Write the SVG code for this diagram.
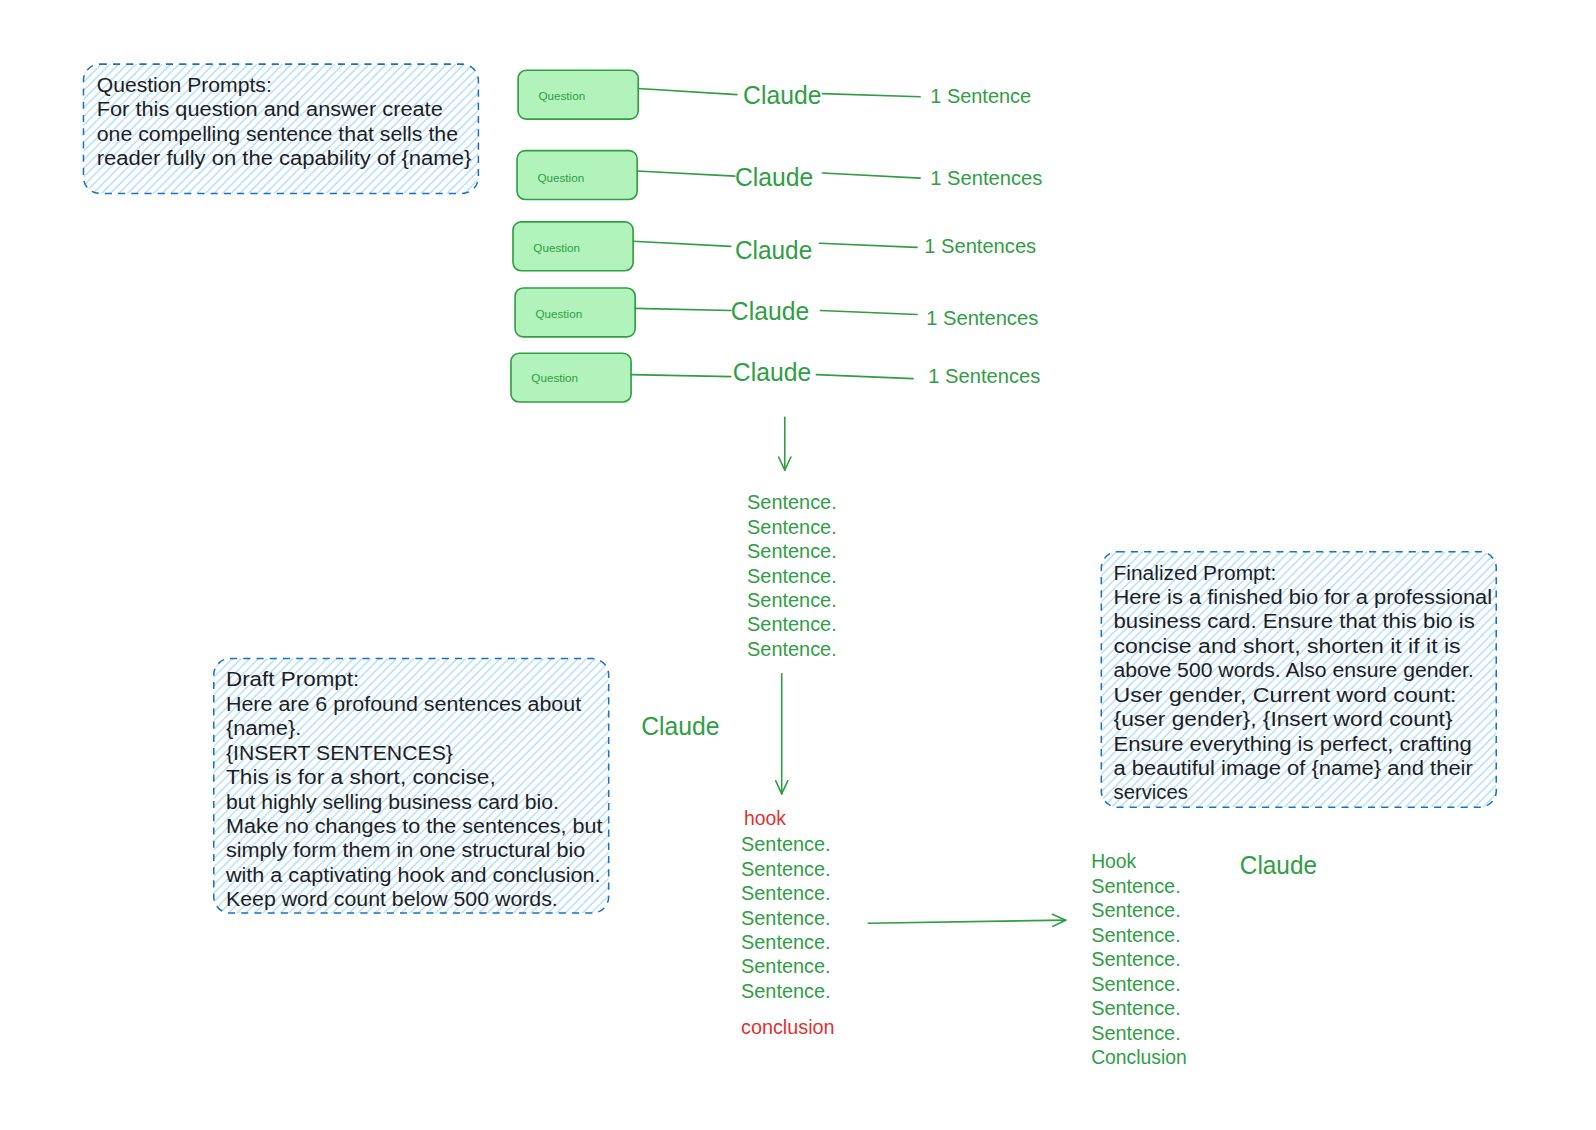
<svg xmlns="http://www.w3.org/2000/svg" width="1596" height="1130" viewBox="0 0 1596 1130">
<defs>
<pattern id="hatch" patternUnits="userSpaceOnUse" width="6" height="6" patternTransform="rotate(45)">
<line x1="1" y1="0" x2="1" y2="6" stroke="#a5d8ff" stroke-width="1.2"/>
</pattern>
<marker id="arrow" markerWidth="16" markerHeight="14" refX="14" refY="7" orient="auto" markerUnits="userSpaceOnUse">
<path d="M1,1 L14,7 L1,13" fill="none" stroke="#2f9e44" stroke-width="1.6" stroke-linecap="round" stroke-linejoin="round"/>
</marker>
</defs>
<style>
text{font-family:"Liberation Sans",Arial,sans-serif;dominant-baseline:central}
.prompt{fill:url(#hatch);stroke:#1971c2;stroke-width:1.5;stroke-dasharray:7 6}
.ptext{font-size:19px;fill:#1e1e1e}
.q{fill:#b2f2bb;stroke:#2f9e44;stroke-width:1.6}
.qt{font-size:11.5px;fill:#2f9e44}
.claude{font-size:25px;fill:#2f9e44}
.g{font-size:19px;fill:#2f9e44}
.r{font-size:19px;fill:#e03131}
.conn{stroke:#2f9e44;stroke-width:1.6;fill:none;stroke-linecap:round}
</style>
<rect width="1596" height="1130" fill="#ffffff"/>
<g transform="scale(1.01786)">
<g id="question-prompts">
<rect class="prompt" x="82" y="63" width="388" height="127" rx="16"/>
<text class="ptext" x="95" y="84" textLength="172" lengthAdjust="spacingAndGlyphs">Question Prompts:</text>
<text class="ptext" x="95" y="108" textLength="340" lengthAdjust="spacingAndGlyphs">For this question and answer create</text>
<text class="ptext" x="95" y="132" textLength="355" lengthAdjust="spacingAndGlyphs">one compelling sentence that sells the</text>
<text class="ptext" x="95" y="156" textLength="368" lengthAdjust="spacingAndGlyphs">reader fully on the capability of {name}</text>
</g>

<g id="q1"><rect class="q" x="509" y="69" width="118" height="48" rx="8"/><text class="qt" x="529" y="94">Question</text></g>
<g id="q2"><rect class="q" x="508" y="148" width="118" height="48" rx="8"/><text class="qt" x="528" y="174">Question</text></g>
<g id="q3"><rect class="q" x="504" y="218" width="118" height="48" rx="8"/><text class="qt" x="524" y="243">Question</text></g>
<g id="q4"><rect class="q" x="506" y="283" width="118" height="48" rx="8"/><text class="qt" x="526" y="308">Question</text></g>
<g id="q5"><rect class="q" x="502" y="347" width="118" height="48" rx="8"/><text class="qt" x="522" y="371">Question</text></g>

<g id="claude1"><text class="claude" x="730" y="93" textLength="77" lengthAdjust="spacingAndGlyphs">Claude</text></g>
<g id="claude2"><text class="claude" x="722" y="174" textLength="77" lengthAdjust="spacingAndGlyphs">Claude</text></g>
<g id="claude3"><text class="claude" x="722" y="246" textLength="76" lengthAdjust="spacingAndGlyphs">Claude</text></g>
<g id="claude4"><text class="claude" x="718" y="306" textLength="77" lengthAdjust="spacingAndGlyphs">Claude</text></g>
<g id="claude5"><text class="claude" x="720" y="365" textLength="77" lengthAdjust="spacingAndGlyphs">Claude</text></g>

<g id="out1"><text class="g" x="914" y="95" textLength="99" lengthAdjust="spacingAndGlyphs">1 Sentence</text></g>
<g id="out2"><text class="g" x="914" y="175" textLength="110" lengthAdjust="spacingAndGlyphs">1 Sentences</text></g>
<g id="out3"><text class="g" x="908" y="242" textLength="110" lengthAdjust="spacingAndGlyphs">1 Sentences</text></g>
<g id="out4"><text class="g" x="910" y="313" textLength="110" lengthAdjust="spacingAndGlyphs">1 Sentences</text></g>
<g id="out5"><text class="g" x="912" y="370" textLength="110" lengthAdjust="spacingAndGlyphs">1 Sentences</text></g>

<g id="sentences-1">
<text class="g" x="734" y="494" textLength="88" lengthAdjust="spacingAndGlyphs">Sentence.</text>
<text class="g" x="734" y="518" textLength="88" lengthAdjust="spacingAndGlyphs">Sentence.</text>
<text class="g" x="734" y="542" textLength="88" lengthAdjust="spacingAndGlyphs">Sentence.</text>
<text class="g" x="734" y="566" textLength="88" lengthAdjust="spacingAndGlyphs">Sentence.</text>
<text class="g" x="734" y="590" textLength="88" lengthAdjust="spacingAndGlyphs">Sentence.</text>
<text class="g" x="734" y="614" textLength="88" lengthAdjust="spacingAndGlyphs">Sentence.</text>
<text class="g" x="734" y="638" textLength="88" lengthAdjust="spacingAndGlyphs">Sentence.</text>
</g>

<g id="claude-draft"><text class="claude" x="630" y="713" textLength="77" lengthAdjust="spacingAndGlyphs">Claude</text></g>

<g id="draft-prompt">
<rect class="prompt" x="210" y="647" width="388" height="250" rx="16"/>
<text class="ptext" x="222" y="668" textLength="131" lengthAdjust="spacingAndGlyphs">Draft Prompt:</text>
<text class="ptext" x="222" y="692" textLength="349" lengthAdjust="spacingAndGlyphs">Here are 6 profound sentences about</text>
<text class="ptext" x="222" y="716" textLength="74" lengthAdjust="spacingAndGlyphs">{name}.</text>
<text class="ptext" x="222" y="740" textLength="223" lengthAdjust="spacingAndGlyphs">{INSERT SENTENCES}</text>
<text class="ptext" x="222" y="764" textLength="265" lengthAdjust="spacingAndGlyphs">This is for a short, concise,</text>
<text class="ptext" x="222" y="788" textLength="327" lengthAdjust="spacingAndGlyphs">but highly selling business card bio.</text>
<text class="ptext" x="222" y="812" textLength="370" lengthAdjust="spacingAndGlyphs">Make no changes to the sentences, but</text>
<text class="ptext" x="222" y="836" textLength="353" lengthAdjust="spacingAndGlyphs">simply form them in one structural bio</text>
<text class="ptext" x="222" y="860" textLength="368" lengthAdjust="spacingAndGlyphs">with a captivating hook and conclusion.</text>
<text class="ptext" x="222" y="884" textLength="326" lengthAdjust="spacingAndGlyphs">Keep word count below 500 words.</text>
</g>

<g id="draft-output">
<text class="r" x="731" y="804">hook</text>
<text class="g" x="728" y="830" textLength="88" lengthAdjust="spacingAndGlyphs">Sentence.</text>
<text class="g" x="728" y="854" textLength="88" lengthAdjust="spacingAndGlyphs">Sentence.</text>
<text class="g" x="728" y="878" textLength="88" lengthAdjust="spacingAndGlyphs">Sentence.</text>
<text class="g" x="728" y="902" textLength="88" lengthAdjust="spacingAndGlyphs">Sentence.</text>
<text class="g" x="728" y="926" textLength="88" lengthAdjust="spacingAndGlyphs">Sentence.</text>
<text class="g" x="728" y="950" textLength="88" lengthAdjust="spacingAndGlyphs">Sentence.</text>
<text class="g" x="728" y="974" textLength="88" lengthAdjust="spacingAndGlyphs">Sentence.</text>
<text class="r" x="728" y="1009" textLength="92" lengthAdjust="spacingAndGlyphs">conclusion</text>
</g>

<g id="finalized-prompt">
<rect class="prompt" x="1082" y="542" width="388" height="251" rx="16"/>
<text class="ptext" x="1094" y="563" textLength="160" lengthAdjust="spacingAndGlyphs">Finalized Prompt:</text>
<text class="ptext" x="1094" y="587" textLength="372" lengthAdjust="spacingAndGlyphs">Here is a finished bio for a professional</text>
<text class="ptext" x="1094" y="611" textLength="355" lengthAdjust="spacingAndGlyphs">business card. Ensure that this bio is</text>
<text class="ptext" x="1094" y="635" textLength="341" lengthAdjust="spacingAndGlyphs">concise and short, shorten it if it is</text>
<text class="ptext" x="1094" y="659" textLength="354" lengthAdjust="spacingAndGlyphs">above 500 words. Also ensure gender.</text>
<text class="ptext" x="1094" y="683" textLength="337" lengthAdjust="spacingAndGlyphs">User gender, Current word count:</text>
<text class="ptext" x="1094" y="707" textLength="333" lengthAdjust="spacingAndGlyphs">{user gender}, {Insert word count}</text>
<text class="ptext" x="1094" y="731" textLength="352" lengthAdjust="spacingAndGlyphs">Ensure everything is perfect, crafting</text>
<text class="ptext" x="1094" y="755" textLength="353" lengthAdjust="spacingAndGlyphs">a beautiful image of {name} and their</text>
<text class="ptext" x="1094" y="779" textLength="73" lengthAdjust="spacingAndGlyphs">services</text>
</g>

<g id="final-output">
<text class="g" x="1072" y="846">Hook</text>
<text class="g" x="1072" y="871" textLength="88" lengthAdjust="spacingAndGlyphs">Sentence.</text>
<text class="g" x="1072" y="895" textLength="88" lengthAdjust="spacingAndGlyphs">Sentence.</text>
<text class="g" x="1072" y="919" textLength="88" lengthAdjust="spacingAndGlyphs">Sentence.</text>
<text class="g" x="1072" y="943" textLength="88" lengthAdjust="spacingAndGlyphs">Sentence.</text>
<text class="g" x="1072" y="967" textLength="88" lengthAdjust="spacingAndGlyphs">Sentence.</text>
<text class="g" x="1072" y="991" textLength="88" lengthAdjust="spacingAndGlyphs">Sentence.</text>
<text class="g" x="1072" y="1015" textLength="88" lengthAdjust="spacingAndGlyphs">Sentence.</text>
<text class="g" x="1072" y="1039" textLength="94" lengthAdjust="spacingAndGlyphs">Conclusion</text>
</g>

<g id="claude-final"><text class="claude" x="1218" y="850" textLength="76" lengthAdjust="spacingAndGlyphs">Claude</text></g>

<g id="connectors">
<path class="conn" d="M627,87 L724,93"/>
<path class="conn" d="M808,92 L904,95"/>
<path class="conn" d="M626,168 L722,173"/>
<path class="conn" d="M808,170 L904,175"/>
<path class="conn" d="M622,237 L718,242"/>
<path class="conn" d="M805,239 L901,243"/>
<path class="conn" d="M624,303 L718,305"/>
<path class="conn" d="M806,305 L901,309"/>
<path class="conn" d="M620,368 L718,370"/>
<path class="conn" d="M802,368 L897,372"/>
<path class="conn" d="M771,410 L771,462" marker-end="url(#arrow)"/>
<path class="conn" d="M768,662 L768,780" marker-end="url(#arrow)"/>
<path class="conn" d="M853,907 L1047,904" marker-end="url(#arrow)"/>
</g>
</g>
</svg>
